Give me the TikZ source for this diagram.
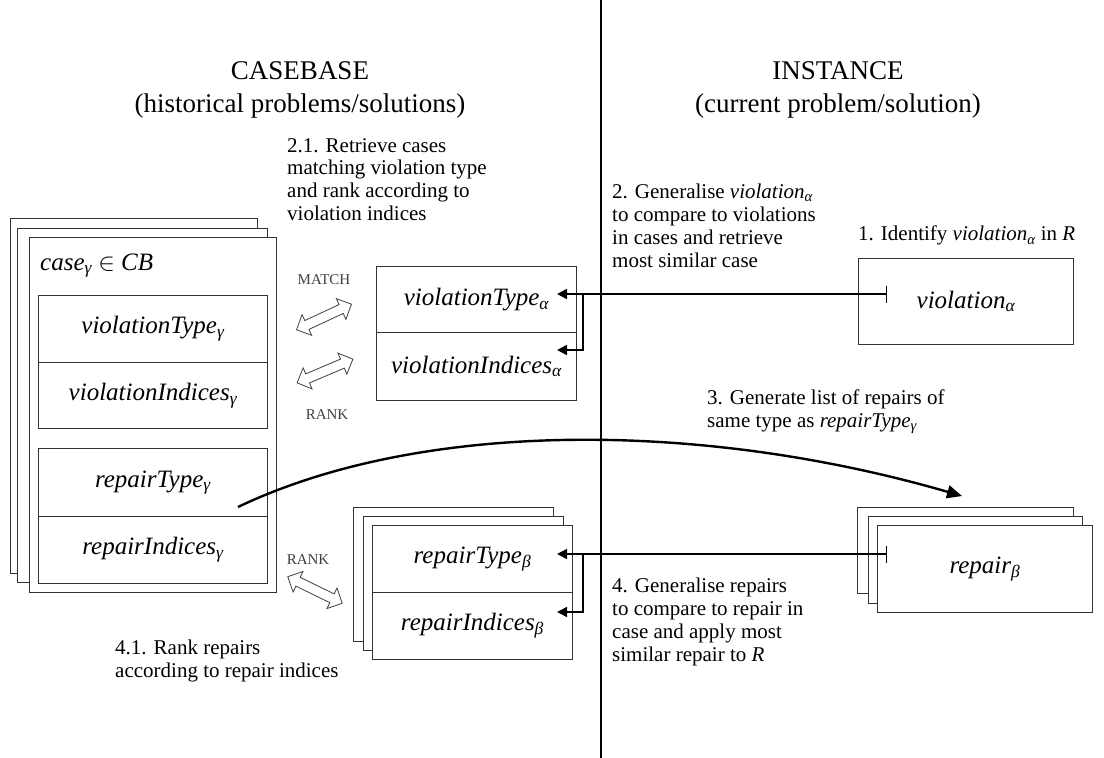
\documentclass[tikz,border=0pt]{standalone}
\usepackage{fontspec}
\setmainfont{Liberation Serif}
\usepackage{tikz}
\usetikzlibrary{shapes.arrows,arrows.meta}

\newcommand{\ix}[1]{\textsubscript{\itshape #1}}

\tikzset{
  head/.style={anchor=north, align=center, inner sep=0pt, font=\fontsize{27}{33}\selectfont},
  card/.style={draw=black!80, fill=white, line width=0.9pt, anchor=north west, inner sep=0pt},
  field/.style={card, font=\fontsize{25}{28}\selectfont\itshape},
  note/.style={anchor=north west, align=left, inner sep=0pt, font=\fontsize{21}{22.8}\selectfont},
  tag/.style={text=black!75, inner sep=0pt, font=\fontsize{15}{15}\selectfont},
  swap/.style={draw=black!75, fill=white, double arrow, double arrow head extend=6.5pt,
    inner sep=0pt, line width=0.8pt},
  link/.style={line width=1.5pt, -{Triangle[length=10pt,width=10pt]}},
}

\newcommand{\shaft}{\rule{50pt}{0pt}\rule{0pt}{9pt}}

\begin{document}
\begin{tikzpicture}[x=1pt,y=-1pt]
  \useasboundingbox (0,0) rectangle (1104,758);
  % Divider
  \coordinate (divtop) at (601,0);
  \coordinate (divbot) at (601,758);
  \draw[line width=1.5pt] (divtop) -- (divbot);
  % Headings
  \node[head] (cbhead) at (300,61) {CASEBASE\\(historical problems/solutions)};
  \node[head] (inhead) at (838,61) {INSTANCE\\(current problem/solution)};
  % Case stack
  \node[card, minimum width=247pt, minimum height=355pt] (case3) at (10,218) {};
  \node[card, minimum width=250pt, minimum height=354pt] (case2) at (17,228) {};
  \node[card, minimum width=247pt, minimum height=355pt] (case1) at (29,237) {};
  \node[anchor=base west, inner sep=0pt, font=\fontsize{25}{28}\selectfont] (caselbl) at (40,270) {\itshape case\ix{γ} $\in$ CB};
  \node[field, minimum width=229pt, minimum height=67pt] (vtypeg) at (38,295) {violationType\ix{γ}};
  \node[field, minimum width=229pt, minimum height=66pt] (vindg) at (38,362) {violationIndices\ix{γ}};
  \node[field, minimum width=229pt, minimum height=68pt] (rtypeg) at (38,448) {repairType\ix{γ}};
  \node[field, minimum width=229pt, minimum height=67pt] (rindg) at (38,516) {repairIndices\ix{γ}};
  % Retrieved case fields
  \node[field, minimum width=200pt, minimum height=66pt] (vtypea) at (376,266) {violationType\ix{α}};
  \node[field, minimum width=200pt, minimum height=68pt] (vinda) at (376,332) {violationIndices\ix{α}};
  % Violation in instance
  \node[field, minimum width=215pt, minimum height=86pt] (viol) at (858,258) {violation\ix{α}};
  % Repair stack (instance)
  \node[card, minimum width=216pt, minimum height=86pt] (rep3) at (857,507) {};
  \node[card, minimum width=214pt, minimum height=87pt] (rep2) at (868,516) {};
  \node[field, minimum width=215pt, minimum height=87pt] (rep1) at (877,525) {repair\ix{β}};
  % Repair stack (casebase side)
  \node[card, minimum width=200pt, minimum height=134pt] (rlist3) at (353,507) {};
  \node[card, minimum width=200pt, minimum height=134pt] (rlist2) at (363,516) {};
  \node[field, minimum width=200pt, minimum height=67pt] (rtypeb) at (372,525) {repairType\ix{β}};
  \node[field, minimum width=200pt, minimum height=67pt] (rindb) at (372,592) {repairIndices\ix{β}};
  % Match / rank arrows
  \node[tag] (matchlbl) at (324,280) {MATCH};
  \node[swap, rotate=25] (matcharr) at (324,317) {\shaft};
  \node[swap, rotate=23] (rankarr) at (325,371) {\shaft};
  \node[tag] (ranklbl) at (327,415) {RANK};
  \node[tag] (rank2lbl) at (308,560) {RANK};
  \node[swap, rotate=-26] (rank2arr) at (315,590) {\shaft};
  % Notes
  \node[note] (n21) at (287,138) {2.1. Retrieve cases\\matching violation type\\and rank according to\\violation indices};
  \node[note] (n2) at (612,184) {2. Generalise \textit{violation\ix{α}}\\to compare to violations\\in cases and retrieve\\most similar case};
  \node[note] (n1) at (858,226) {1. Identify \textit{violation\ix{α}} in \textit{R}};
  \node[note] (n3) at (707,390) {3. Generate list of repairs of\\same type as \textit{repairType\ix{γ}}};
  \node[note] (n4) at (612,578) {4. Generalise repairs\\to compare to repair in\\case and apply most\\similar repair to \textit{R}};
  \node[note] (n41) at (115,640) {4.1. Rank repairs\\according to repair indices};
  % Connectors
  \coordinate (vtee) at (887,294);
  \coordinate (vhit) at (557,294);
  \coordinate (vfork) at (583,294);
  \coordinate (vhit2) at (557,350);
  \draw[link, {Bar[width=17pt]}-{Triangle[length=10pt,width=10pt]}] (vtee) -- (vhit);
  \draw[link] (vfork) |- (vhit2);
  \coordinate (rtee) at (887,554);
  \coordinate (rhit) at (557,554);
  \coordinate (rfork) at (583,554);
  \coordinate (rhit2) at (557,612);
  \draw[link, {Bar[width=17pt]}-{Triangle[length=10pt,width=10pt]}] (rtee) -- (rhit);
  \draw[link] (rfork) |- (rhit2);
  \coordinate (rstart) at (238,507);
  \coordinate (rend) at (962,496);
  \draw[line width=2.4pt, -{Triangle[length=15pt,width=13pt]}] (rstart) .. controls (420,420) and (700,420) .. (rend);
\end{tikzpicture}
\end{document}
